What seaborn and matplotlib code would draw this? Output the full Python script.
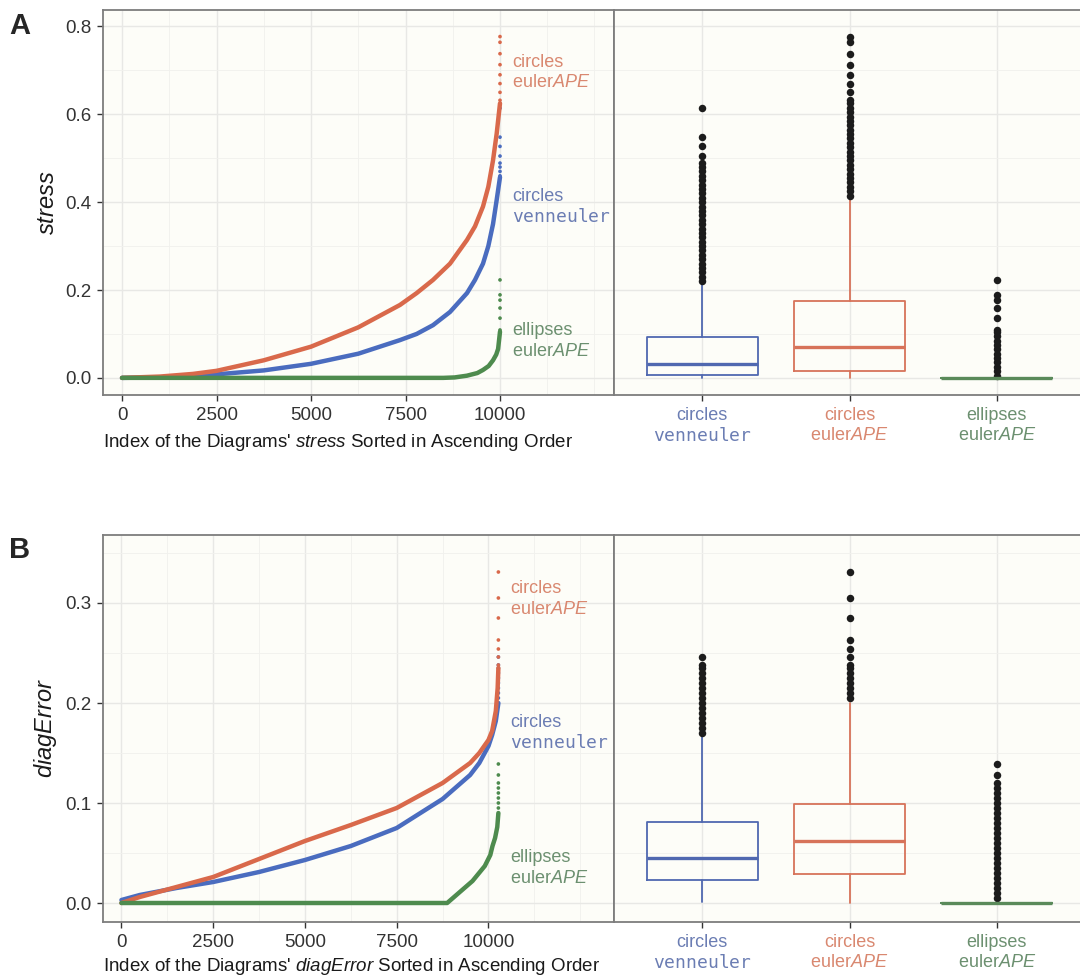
import pandas as pd
import matplotlib
matplotlib.use("Agg")
import matplotlib.pyplot as plt
import seaborn as sns
from matplotlib.ticker import MultipleLocator

sns.set_theme(style="white")
plt.rcParams["font.family"] = ["Liberation Sans", "DejaVu Sans"]
plt.rcParams["mathtext.fontset"] = "custom"
plt.rcParams["mathtext.rm"] = "Liberation Sans"
plt.rcParams["mathtext.it"] = "Liberation Sans:italic"
plt.rcParams["mathtext.bf"] = "Liberation Sans:bold"
plt.rcParams["mathtext.tt"] = "DejaVu Sans Mono"

# methods, in ggplot factor order
methods = ["circles venneuler", "circles eulerAPE", "ellipses eulerAPE"]
method_labels = ["circles\n$\\mathtt{venneuler}$",
                 "circles\neuler$\\mathit{APE}$",
                 "ellipses\neuler$\\mathit{APE}$"]
line_colors = ["#4a6cbf", "#d9694b", "#4e8b4e"]
text_colors = ["#6b7db3", "#d98870", "#6c9070"]
box_colors = ["#5068b0", "#d7735a", "#5a8a5a"]

# ---- panel A: stress, sorted curves (index, value)
a_n = 10000
a_venn_idx = [0, 1000, 1875, 2500, 3750, 5000, 6250, 7354, 7795, 8228, 8677,
              9127, 9339, 9550, 9691, 9815, 9912, 10000]
a_venn_val = [0.0, 0.001, 0.004, 0.008, 0.017, 0.032, 0.055, 0.086, 0.10, 0.12,
              0.15, 0.193, 0.223, 0.26, 0.30, 0.35, 0.405, 0.457]
a_circ_idx = [0, 1000, 1875, 2500, 3750, 5000, 6250, 7354, 7795, 8228, 8677,
              9127, 9339, 9550, 9691, 9815, 9912, 10000]
a_circ_val = [0.0, 0.003, 0.009, 0.016, 0.040, 0.071, 0.115, 0.166, 0.193, 0.223,
              0.26, 0.314, 0.345, 0.39, 0.435, 0.495, 0.556, 0.625]
a_ell_idx = [0, 8500, 8800, 9127, 9400, 9550, 9700, 9815, 9900, 9950, 10000]
a_ell_val = [0.0, 0.0, 0.001, 0.005, 0.011, 0.018, 0.027, 0.04, 0.053, 0.066, 0.105]

# box stats: whislo, q1, median, q3, whishi
a_venn_box = [0.0, 0.007, 0.032, 0.093, 0.216]
a_circ_box = [0.0, 0.016, 0.070, 0.175, 0.411]
a_ell_box = [0.0, 0.0, 0.0, 0.0, 0.0]
a_venn_out = [0.22, 0.23, 0.24, 0.25, 0.26, 0.27, 0.28, 0.29, 0.30, 0.31, 0.32,
              0.33, 0.34, 0.35, 0.36, 0.37, 0.38, 0.39, 0.40, 0.41, 0.42, 0.43,
              0.44, 0.45, 0.46, 0.47, 0.48, 0.489, 0.505, 0.527, 0.548, 0.614]
a_circ_out = [0.415, 0.425, 0.435, 0.445, 0.455, 0.465, 0.475, 0.485, 0.495,
              0.505, 0.515, 0.525, 0.535, 0.545, 0.555, 0.565, 0.575, 0.585,
              0.595, 0.605, 0.615, 0.625, 0.632, 0.65, 0.67, 0.69, 0.713,
              0.738, 0.764, 0.777]
a_ell_out = [0.005, 0.015, 0.025, 0.035, 0.045, 0.055, 0.065, 0.075, 0.085,
             0.095, 0.105, 0.109, 0.136, 0.159, 0.177, 0.189, 0.223]
a_label_y = [0.389, 0.695, 0.084]

# ---- panel B: diagError
b_n = 10270
b_venn_idx = [0, 500, 1500, 2500, 3750, 5000, 6250, 7500, 8750, 9500, 9750,
              10000, 10100, 10200, 10270]
b_venn_val = [0.003, 0.008, 0.015, 0.021, 0.031, 0.043, 0.057, 0.075, 0.104,
              0.128, 0.14, 0.157, 0.168, 0.182, 0.20]
b_circ_idx = [0, 500, 1500, 2500, 3750, 5000, 6250, 7500, 8750, 9500, 9750,
              10000, 10100, 10200, 10250, 10270]
b_circ_val = [0.0, 0.006, 0.016, 0.026, 0.044, 0.062, 0.078, 0.095, 0.12, 0.14,
              0.15, 0.163, 0.172, 0.192, 0.215, 0.235]
b_ell_idx = [0, 8875, 9565, 9900, 10050, 10110, 10180, 10240, 10270]
b_ell_val = [0.0, 0.0, 0.022, 0.037, 0.048, 0.057, 0.065, 0.076, 0.09]

b_venn_box = [0.001, 0.023, 0.045, 0.081, 0.168]
b_circ_box = [0.0, 0.029, 0.062, 0.099, 0.20]
b_ell_box = [0.0, 0.0, 0.0, 0.0, 0.0]
b_venn_out = [0.170, 0.175, 0.180, 0.185, 0.190, 0.195, 0.200, 0.205, 0.210,
              0.215, 0.220, 0.225, 0.230, 0.235, 0.238, 0.246]
b_circ_out = [0.205, 0.210, 0.215, 0.220, 0.225, 0.230, 0.235, 0.238, 0.246,
              0.254, 0.263, 0.285, 0.305, 0.331]
b_ell_out = [0.005, 0.010, 0.015, 0.020, 0.025, 0.030, 0.035, 0.040, 0.045,
             0.050, 0.055, 0.060, 0.065, 0.070, 0.075, 0.080, 0.085, 0.090,
             0.095, 0.100, 0.105, 0.110, 0.115, 0.120, 0.128, 0.139]
b_label_y = [0.170, 0.304, 0.035]

W, H = 1080, 977
panel_bg = "#fdfdf8"
frame_col = "#7d7d7d"
fs = 13.5
lab_fs = 13


def px(x0, y0, x1, y1):
    # pixel box (top-left origin) -> figure fraction rect
    return [x0 / W, 1 - y1 / H, (x1 - x0) / W, (y1 - y0) / H]


def style_axes(ax, ymaj, ymin):
    ax.set_facecolor(panel_bg)
    ax.yaxis.set_major_locator(MultipleLocator(ymaj))
    ax.yaxis.set_minor_locator(MultipleLocator(ymin))
    ax.grid(True, which="major", color="#e8e8e5", lw=1.0)
    ax.grid(True, which="minor", color="#f1f1ed", lw=0.6)
    ax.set_axisbelow(True)
    for s in ax.spines.values():
        s.set_color(frame_col)
        s.set_linewidth(1.3)
    ax.tick_params(which="major", length=4, width=1, color="#333333",
                   labelsize=fs, labelcolor="#333333", pad=4.5,
                   bottom=True, left=True)
    ax.tick_params(which="minor", length=0)


def curve_panel(ax, curves, outs, n, xlim, ylim, ymaj, label_y, name, xlab_y):
    rows = []
    for m, (ix, vals) in zip(methods, curves):
        rows += [(i, v, m) for i, v in zip(ix, vals)]
    df = pd.DataFrame(rows, columns=["idx", "value", "method"])
    sns.lineplot(data=df, x="idx", y="value", hue="method", hue_order=methods,
                 palette=line_colors, lw=3.2, legend=False, ax=ax)
    # sparse top points at the end of each sorted curve
    tail = []
    for m, (ix, vals), o in zip(methods, curves, outs):
        tail += [(n, v, m) for v in o if v > vals[-1]]
    tdf = pd.DataFrame(tail, columns=["idx", "value", "method"])
    sns.scatterplot(data=tdf, x="idx", y="value", hue="method", hue_order=methods,
                    palette=line_colors, s=7, linewidth=0, legend=False, ax=ax)
    for lab, yv, c in zip(method_labels, label_y, text_colors):
        ax.annotate(lab, xy=(n, yv), xytext=(12, 0), textcoords="offset pixels",
                    va="center", ha="left", fontsize=lab_fs, color=c,
                    linespacing=1.25)
    ax.set_xlim(*xlim)
    ax.set_ylim(*ylim)
    ax.set_xticks([0, 2500, 5000, 7500, 10000])
    ax.xaxis.set_minor_locator(MultipleLocator(1250))
    style_axes(ax, ymaj, ymaj / 2)
    ax.set_ylabel("$\\mathit{" + name + "}$", fontsize=17, color="#1a1a1a")
    ax.set_xlabel("Index of the Diagrams' $\\mathit{" + name + "}$ Sorted in Ascending Order",
                  fontsize=fs, color="#1a1a1a", ha="left")
    ax.xaxis.set_label_coords(0.0, xlab_y)
    ax.yaxis.set_label_coords(-0.086, 0.5)


def box_panel(ax, boxes, outs, ylim, ymaj):
    stats = [dict(whislo=b[0], q1=b[1], med=b[2], q3=b[3], whishi=b[4], fliers=o)
             for b, o in zip(boxes, outs)]
    art = ax.bxp(stats, positions=[1, 2, 3], widths=0.75, showcaps=False,
                 patch_artist=False,
                 flierprops=dict(marker="o", markerfacecolor="#1c1c1c",
                                 markeredgecolor="none", markersize=5.4))
    for i, c in enumerate(box_colors):
        art["boxes"][i].set(color=c, lw=1.3)
        art["medians"][i].set(color=c, lw=2.4)
        art["whiskers"][2 * i].set(color=c, lw=1.3)
        art["whiskers"][2 * i + 1].set(color=c, lw=1.3)
    ax.set_xlim(0.4, 3.6)
    ax.set_ylim(*ylim)
    style_axes(ax, ymaj, ymaj / 2)
    ax.set_xticks([1, 2, 3])
    ax.set_xticklabels(method_labels, linespacing=1.25, fontsize=lab_fs)
    for t, c in zip(ax.get_xticklabels(), text_colors):
        t.set_color(c)
    ax.tick_params(axis="y", left=False, labelleft=False)
    ax.spines["right"].set_visible(False)
    ax.set_xlabel("")
    ax.set_ylabel("")


fig = plt.figure(figsize=(W / 100, H / 100), dpi=100)

# row A
ax1 = fig.add_axes(px(103, 10, 614, 395))
ax2 = fig.add_axes(px(614, 10, 1085, 395))
a_ylim = (-0.039, 0.8375)
curve_panel(ax1, [(a_venn_idx, a_venn_val), (a_circ_idx, a_circ_val), (a_ell_idx, a_ell_val)],
            [a_venn_out, a_circ_out, a_ell_out], a_n, (-503, 13016), a_ylim, 0.2,
            a_label_y, "stress", -0.095)
box_panel(ax2, [a_venn_box, a_circ_box, a_ell_box], [a_venn_out, a_circ_out, a_ell_out],
          a_ylim, 0.2)

# row B
ax3 = fig.add_axes(px(103, 535, 614, 922))
ax4 = fig.add_axes(px(614, 535, 1085, 922))
b_ylim = (-0.019, 0.368)
curve_panel(ax3, [(b_venn_idx, b_venn_val), (b_circ_idx, b_circ_val), (b_ell_idx, b_ell_val)],
            [b_venn_out, b_circ_out, b_ell_out], b_n, (-502, 13420), b_ylim, 0.1,
            b_label_y, "diagError", -0.088)
box_panel(ax4, [b_venn_box, b_circ_box, b_ell_box], [b_venn_out, b_circ_out, b_ell_out],
          b_ylim, 0.1)

fig.text(9 / W, 1 - 26 / H, "A", fontsize=21, fontweight="bold", va="center", ha="left")
fig.text(9 / W, 1 - 550 / H, "B", fontsize=21, fontweight="bold", va="center", ha="left")

fig.savefig("out.png", dpi=100)
